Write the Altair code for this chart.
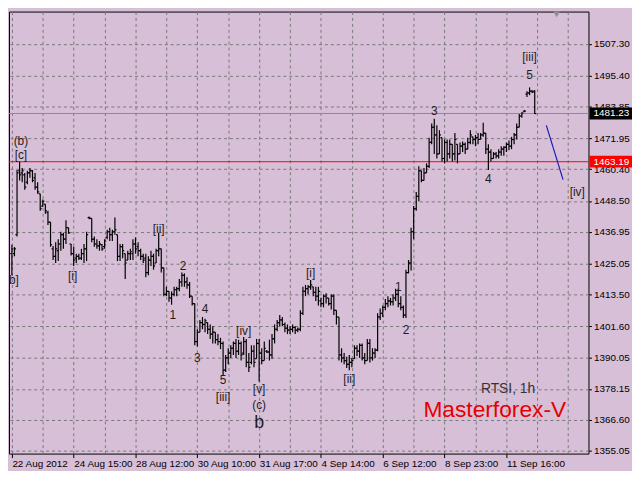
import json
import altair as alt
import pandas as pd

# ---------------- data (RTSI, hourly bars) ----------------
high = [1432.1, 1431.3, 1460.1, 1463.3, 1460.8, 1459.0, 1459.8, 1460.8, 1460.1, 1459.0,
        1455.5, 1451.2, 1449.1, 1447.3, 1444.8, 1440.6, 1431.7, 1433.1, 1434.2, 1437.0,
        1436.6, 1441.3, 1438.5, 1432.4, 1431.4, 1428.8, 1428.8, 1430.6, 1432.4, 1437.0,
        1442.7, 1442.0, 1435.2, 1434.2, 1433.5, 1432.4, 1434.2, 1437.7, 1438.5, 1437.7,
        1442.3, 1435.9, 1432.4, 1432.4, 1428.8, 1429.9, 1430.6, 1434.2, 1434.9, 1433.1,
        1430.6, 1428.8, 1428.8, 1427.8, 1429.9, 1428.8, 1430.6, 1436.6, 1430.6, 1423.5,
        1416.4, 1414.7, 1414.7, 1416.4, 1416.4, 1419.3, 1421.7, 1421.4, 1420.0, 1418.2,
        1412.9, 1410.1, 1400.5, 1404.0, 1405.1, 1404.4, 1403.0, 1402.3, 1401.6, 1399.4,
        1398.7, 1397.3, 1395.9, 1390.9, 1393.4, 1394.5, 1395.9, 1396.9, 1396.6, 1395.9,
        1397.6, 1396.9, 1391.6, 1394.5, 1394.5, 1396.9, 1396.9, 1393.4, 1395.9, 1392.7,
        1396.6, 1398.7, 1402.3, 1404.0, 1405.8, 1405.1, 1403.0, 1402.3, 1401.6, 1402.3,
        1401.6, 1401.2, 1407.6, 1416.4, 1417.1, 1417.1, 1418.9, 1416.4, 1416.4, 1416.4,
        1412.2, 1413.6, 1414.0, 1412.2, 1413.6, 1413.6, 1407.6, 1405.1, 1393.4, 1391.6,
        1390.2, 1390.9, 1389.8, 1394.5, 1394.5, 1395.2, 1395.2, 1391.6, 1396.9, 1396.9,
        1393.4, 1393.4, 1406.5, 1408.3, 1409.4, 1411.8, 1412.9, 1412.2, 1413.6, 1415.7,
        1415.7, 1412.9, 1409.4, 1422.8,
        1426.4, 1438.5, 1446.6, 1451.9,
        1461.5, 1459.8, 1460.8, 1462.6, 1472.2, 1477.5, 1479.3, 1476.8, 1475.0, 1472.2,
        1471.5, 1471.5, 1471.5, 1469.7, 1473.9, 1469.7, 1470.4, 1470.8, 1470.4, 1472.2,
        1475.0, 1472.5, 1473.2, 1473.9, 1473.9, 1477.8, 1473.9, 1469.7, 1467.9, 1466.8,
        1466.8, 1467.9, 1469.0, 1469.0, 1470.4, 1471.1, 1472.5, 1473.9, 1477.5, 1481.0,
        1481.7, 1482.5, 1489.6, 1491.0, 1489.9, 1489.9]

low = [1420.7, 1427.8, 1435.2, 1456.2, 1455.5, 1452.7, 1454.8, 1457.2, 1455.5, 1452.7,
       1451.2, 1444.8, 1446.3, 1443.7, 1439.5, 1431.4, 1426.4, 1425.3, 1426.0, 1429.9,
       1430.6, 1432.4, 1436.2, 1428.1, 1424.2, 1425.3, 1426.4, 1426.4, 1425.3, 1426.0,
       1441.7, 1433.1, 1431.4, 1430.6, 1429.9, 1429.9, 1430.6, 1434.2, 1433.5, 1433.5,
       1435.9, 1426.0, 1426.0, 1427.1, 1419.3, 1426.4, 1426.4, 1426.4, 1428.8, 1427.8,
       1426.4, 1425.3, 1420.0, 1420.7, 1424.2, 1422.8, 1425.3, 1427.8, 1421.7, 1412.9,
       1412.9, 1410.8, 1409.7, 1412.9, 1412.9, 1414.7, 1416.4, 1416.4, 1415.7, 1412.2,
       1409.4, 1394.5, 1394.1, 1399.4, 1400.5, 1399.4, 1398.7, 1396.9, 1395.2, 1395.2,
       1394.5, 1393.1, 1383.4, 1384.5, 1387.4, 1389.8, 1390.9, 1389.8, 1390.9, 1388.8,
       1390.9, 1386.3, 1384.5, 1387.4, 1386.3, 1389.5, 1381.0, 1387.4, 1388.8, 1391.6,
       1388.8, 1389.5, 1395.2, 1399.8, 1401.6, 1401.6, 1399.4, 1398.7, 1398.7, 1399.4,
       1398.7, 1399.4, 1399.8, 1405.8, 1412.9, 1413.6, 1415.3, 1412.9, 1411.1, 1409.4,
       1408.7, 1408.7, 1410.1, 1409.4, 1407.9, 1405.8, 1402.3, 1388.8, 1388.1, 1387.4,
       1386.0, 1385.2, 1386.3, 1389.5, 1390.5, 1389.8, 1388.8, 1387.4, 1388.8, 1388.1,
       1388.8, 1389.8, 1392.3, 1404.0, 1405.1, 1407.6, 1408.7, 1409.4, 1409.4, 1411.1,
       1408.7, 1407.6, 1404.7, 1404.7,
       1421.4, 1422.5, 1434.2, 1444.8,
       1448.4, 1455.5, 1456.2, 1459.0, 1460.8, 1469.7, 1466.1, 1464.4, 1466.1, 1463.3,
       1462.6, 1463.3, 1464.4, 1463.3, 1463.6, 1462.6, 1466.1, 1466.8, 1466.1, 1467.9,
       1469.7, 1469.7, 1469.0, 1469.7, 1471.5, 1472.5, 1466.1, 1460.1, 1463.3, 1464.4,
       1464.4, 1464.4, 1465.4, 1465.4, 1466.8, 1467.5, 1467.9, 1469.7, 1471.5, 1476.1,
       1479.6, 1481.7, 1487.4, 1488.1, 1488.9, 1481.0]

open_ = [1428.8, 1428.8, 1435.9, 1459.8, 1459.0, 1458.3, 1455.5, 1459.0, 1459.8, 1457.2,
         1453.7, 1451.2, 1446.6, 1447.3, 1444.1, 1440.6, 1430.6, 1427.8, 1429.9, 1432.4,
         1435.9, 1434.2, 1438.5, 1432.4, 1428.8, 1427.1, 1427.8, 1427.1, 1428.8, 1430.6,
         1442.3, 1442.0, 1434.2, 1432.4, 1431.7, 1432.1, 1431.4, 1434.9, 1437.0, 1435.9,
         1437.0, 1435.9, 1427.8, 1431.4, 1428.8, 1426.4, 1428.8, 1428.8, 1432.4, 1431.4,
         1429.9, 1427.8, 1427.1, 1421.7, 1426.4, 1427.8, 1425.3, 1429.9, 1430.6, 1423.5,
         1413.6, 1414.7, 1412.2, 1413.6, 1415.3, 1415.7, 1418.2, 1420.7, 1418.2, 1417.1,
         1412.9, 1410.1, 1395.9, 1399.4, 1403.0, 1402.3, 1403.0, 1400.5, 1398.7, 1399.4,
         1396.6, 1395.9, 1395.2, 1385.2, 1389.8, 1391.6, 1393.4, 1395.2, 1392.3, 1395.2,
         1391.6, 1395.9, 1388.1, 1388.1, 1392.3, 1389.5, 1395.2, 1391.6, 1388.8, 1392.3,
         1392.0, 1390.9, 1396.9, 1400.5, 1403.0, 1404.0, 1402.3, 1400.9, 1400.2, 1400.5,
         1401.2, 1400.2, 1400.5, 1406.5, 1414.7, 1415.7, 1416.4, 1416.4, 1414.3, 1412.9,
         1411.1, 1410.1, 1412.9, 1412.2, 1410.1, 1412.9, 1407.6, 1405.1, 1390.9, 1389.8,
         1388.8, 1387.4, 1388.1, 1389.5, 1393.4, 1392.3, 1394.5, 1389.8, 1388.8, 1395.2,
         1389.8, 1391.6, 1392.7, 1405.1, 1406.5, 1408.7, 1410.1, 1411.1, 1410.8, 1412.2,
         1413.6, 1410.1, 1408.7, 1405.8,
         1421.7, 1425.3, 1437.0, 1445.6,
         1450.2, 1459.8, 1456.2, 1459.0, 1461.5, 1470.4, 1476.1, 1473.2, 1466.1, 1472.2,
         1464.4, 1470.4, 1466.1, 1469.7, 1466.1, 1469.7, 1466.1, 1469.0, 1469.7, 1467.9,
         1470.4, 1472.5, 1471.5, 1472.2, 1471.5, 1473.2, 1473.9, 1467.9, 1466.8, 1464.4,
         1466.1, 1465.4, 1466.8, 1467.9, 1468.6, 1469.7, 1469.0, 1471.5, 1473.2, 1476.1,
         1480.3, 1482.1, 1488.5, 1488.9, 1489.6, 1489.6]

close = [1430.6, 1430.6, 1459.0, 1458.3, 1459.8, 1453.7, 1459.0, 1459.8, 1456.2, 1453.7,
         1451.9, 1445.6, 1448.4, 1444.8, 1440.6, 1432.1, 1427.8, 1430.6, 1432.4, 1435.9,
         1434.2, 1438.5, 1436.6, 1428.8, 1426.4, 1427.8, 1427.1, 1428.8, 1430.6, 1435.9,
         1442.0, 1434.2, 1432.4, 1431.7, 1432.4, 1430.6, 1433.5, 1437.0, 1435.9, 1437.0,
         1437.7, 1427.8, 1431.4, 1429.9, 1425.3, 1428.8, 1429.5, 1432.4, 1430.6, 1429.9,
         1427.8, 1426.4, 1421.7, 1426.4, 1427.8, 1424.2, 1429.9, 1430.6, 1423.5, 1413.6,
         1414.7, 1412.2, 1413.6, 1415.3, 1415.7, 1418.2, 1420.7, 1418.2, 1417.1, 1412.9,
         1410.1, 1395.9, 1399.4, 1403.0, 1402.3, 1403.7, 1400.5, 1398.7, 1399.4, 1396.6,
         1395.9, 1395.2, 1385.2, 1389.8, 1391.6, 1393.4, 1395.2, 1392.3, 1395.2, 1390.9,
         1395.9, 1388.1, 1386.3, 1392.3, 1388.1, 1395.2, 1391.6, 1388.8, 1393.4, 1392.0,
         1390.9, 1396.9, 1400.5, 1403.0, 1404.0, 1402.3, 1400.9, 1400.2, 1400.5, 1401.2,
         1400.2, 1400.5, 1406.5, 1414.7, 1415.7, 1416.4, 1417.1, 1414.3, 1412.9, 1414.7,
         1410.1, 1412.9, 1412.2, 1410.1, 1412.9, 1407.6, 1405.1, 1390.9, 1389.8, 1388.8,
         1387.4, 1388.1, 1388.8, 1393.4, 1392.3, 1394.5, 1389.8, 1388.8, 1395.2, 1389.8,
         1391.6, 1392.7, 1405.1, 1406.5, 1408.7, 1410.1, 1411.1, 1410.8, 1412.2, 1413.6,
         1410.1, 1408.7, 1405.8, 1421.7,
         1425.3, 1437.0, 1445.6, 1450.2,
         1459.8, 1456.2, 1459.0, 1461.5, 1470.4, 1476.1, 1473.2, 1466.1, 1473.2, 1464.4,
         1470.4, 1466.1, 1469.7, 1466.1, 1471.5, 1466.1, 1469.0, 1469.7, 1467.9, 1470.4,
         1473.2, 1471.5, 1472.2, 1471.5, 1473.2, 1473.9, 1467.9, 1466.8, 1464.4, 1466.1,
         1465.4, 1466.8, 1467.9, 1468.6, 1469.7, 1469.0, 1471.5, 1473.2, 1476.1, 1480.3,
         1481.4, 1482.1, 1488.9, 1489.6, 1489.2, 1481.2]

date_labels = ["22 Aug 2012", "24 Aug 15:00", "28 Aug 12:00", "30 Aug 10:00",
               "31 Aug 17:00", "4 Sep 14:00", "6 Sep 12:00", "8 Sep 23:00", "11 Sep 16:00"]
date_pos = [0, 24, 48, 72, 96, 120, 144, 168, 192]
grid_pos = [0, 12, 24, 36, 48, 60, 72, 84, 96, 108, 120, 132, 144, 156, 168, 180, 192, 204, 216]
price_ticks = [1507.30, 1495.40, 1483.85, 1471.95, 1460.40, 1448.50, 1436.95,
               1425.05, 1413.50, 1401.60, 1390.05, 1378.15, 1366.60, 1355.05]

level_price = [1481.23, 1463.19]
level_color = ["#8c8c8c", "#ff0000"]
level_box = ["#000000", "#ff0000"]

wave_text = ["(b)", "[c]", "b]", "[i]", "[ii]", "2", "1", "4", "3", "5", "[iii]", "[iv]",
             "[v]", "(c)", "b", "[i]", "[ii]", "1", "2", "3", "4", "5", "[iii]", "[iv]"]
wave_i = [3.5, 3.5, 0.8, 23.6, 57, 66.5, 62.5, 75, 72, 82, 82, 90,
          96, 96, 96, 116, 131, 150, 153, 164, 185, 201, 201, 219.5]
wave_price = [1470.9, 1465.6, 1418.9, 1420.3, 1438.1, 1424.3, 1405.8, 1407.9, 1389.8,
              1381.6, 1375.3, 1399.8, 1378.2, 1372.0, 1365.6, 1421.4, 1381.7, 1416.45,
              1400.1, 1482.1, 1456.6, 1495.6, 1502.2, 1451.9]
wave_size = [12, 12, 12, 12, 12, 12, 12, 12, 12, 12, 12, 12,
             12, 12, 18, 12, 12, 12, 12, 12, 12, 12, 12, 12]

proj_i = [207.5, 214.0]
proj_price = [1476.8, 1456.5]

note_text = ["RTSI, 1h", "Masterforex-V"]
note_i = [203.2, 215.2]
note_price = [1378.1, 1370.3]
note_size = [14, 23]
note_color = ["#333333", "#e60000"]

# ---------------- chart ----------------
W, H = 586, 447
BG = "#D8BFD8"
FONT = "Liberation Sans"
GRID = "#777777"
BAR_W = 1.2

n = len(high)
if not (len(low) == n and len(open_) == n and len(close) == n):
    raise ValueError("OHLC lists differ in length")

bars = pd.DataFrame({"i": list(range(n)), "high": high, "low": low,
                     "open": open_, "close": close})
levels = pd.DataFrame({"price": level_price, "color": level_color, "box": level_box,
                       "label": ["%.2f" % p for p in level_price]})
waves = pd.DataFrame({"i": wave_i, "price": wave_price, "text": wave_text, "size": wave_size})
proj = pd.DataFrame({"i": proj_i, "price": proj_price})
notes = pd.DataFrame({"i": note_i, "price": note_price, "text": note_text,
                      "size": note_size, "color": note_color})
marker = pd.DataFrame({"i": [211.5], "price": [1518.3]})

xs = alt.Scale(domain=[-1.125, 223.875], nice=False, zero=False)
ys = alt.Scale(domain=[1353.99, 1519.37], nice=False, zero=False)


def X(f, axis=None):
    return alt.X(f, type="quantitative", scale=xs, axis=axis)


def Y(f, axis=None):
    return alt.Y(f, type="quantitative", scale=ys, axis=axis)


grid_axis = alt.Axis(orient="bottom", values=grid_pos, grid=True, gridColor=GRID,
                     gridDash=[3, 3], gridWidth=1, labels=False, ticks=False,
                     domain=False, title=None)
label_expr = "%s[indexof(%s, datum.value)]" % (json.dumps(date_labels), json.dumps(date_pos))
date_axis = alt.Axis(orient="bottom", values=date_pos, grid=False, labelExpr=label_expr,
                     labelAlign="left", labelBaseline="top", labelPadding=1,
                     labelFont=FONT, labelFontSize=10, labelColor="black",
                     tickSize=4, tickColor="black", tickWidth=1, domain=False,
                     title=None, labelOverlap=False, labelFlush=False, labelBound=False)
price_axis = alt.Axis(orient="right", values=price_ticks, format=".2f", grid=True,
                      gridColor=GRID, gridDash=[3, 3], gridWidth=1,
                      labelFont=FONT, labelFontSize=10, labelColor="black",
                      tickSize=3, tickColor="black", labelPadding=2, domain=False,
                      title=None, labelOverlap=False, labelFlush=False)

level_lines = alt.Chart(levels).mark_rule(strokeWidth=1).encode(
    y=Y("price"), color=alt.Color("color:N", scale=None))

wicks = alt.Chart(bars).mark_rule(color="black", strokeWidth=BAR_W).encode(
    x=X("i", grid_axis), y=Y("low", price_axis), y2="high")

opens = alt.Chart(bars).mark_rule(color="black", strokeWidth=BAR_W, xOffset=-1.6, x2Offset=0).encode(
    x=X("i", date_axis), x2="i", y=Y("open"))

closes = alt.Chart(bars).mark_rule(color="black", strokeWidth=BAR_W, xOffset=0, x2Offset=1.6).encode(
    x=X("i"), x2="i", y=Y("close"))

proj_line = alt.Chart(proj).mark_line(color="#1a1ab8", strokeWidth=1.2).encode(
    x=X("i"), y=Y("price"))

wave_text_layer = alt.Chart(waves).mark_text(font=FONT, color="#1e1e1e", align="center",
                                              baseline="middle").encode(
    x=X("i"), y=Y("price"), text="text:N", size=alt.Size("size:Q", scale=None))

note_layer = alt.Chart(notes).mark_text(font=FONT, align="right", baseline="middle").encode(
    x=X("i"), y=Y("price"), text="text:N", size=alt.Size("size:Q", scale=None),
    color=alt.Color("color:N", scale=None))

marker_layer = alt.Chart(marker).mark_point(shape="triangle-down", filled=True, size=45,
                                            color="#8e8e8e", opacity=1).encode(
    x=X("i"), y=Y("price"))

boxes = alt.Chart(levels).transform_calculate(
    lo="datum.price - 2.2", hi="datum.price + 2.2"
).mark_rect().encode(
    x=alt.value(W + 1), x2=alt.value(W + 44), y=Y("lo:Q"), y2="hi:Q",
    color=alt.Color("box:N", scale=None))

box_text = alt.Chart(levels).mark_text(font=FONT, fontSize=10, color="white", align="left",
                                       baseline="middle").encode(
    x=alt.value(W + 5), y=Y("price"), text="label:N")

chart = alt.layer(
    level_lines, wicks, opens, closes, proj_line, wave_text_layer, note_layer,
    marker_layer, boxes, box_text
).resolve_axis(
    x="independent", y="independent"
).properties(
    width=W, height=H, padding=0, background=BG
).configure_view(
    stroke="black", strokeWidth=1
)

chart.save("out.html", embed_options={"renderer": "svg", "actions": False})
